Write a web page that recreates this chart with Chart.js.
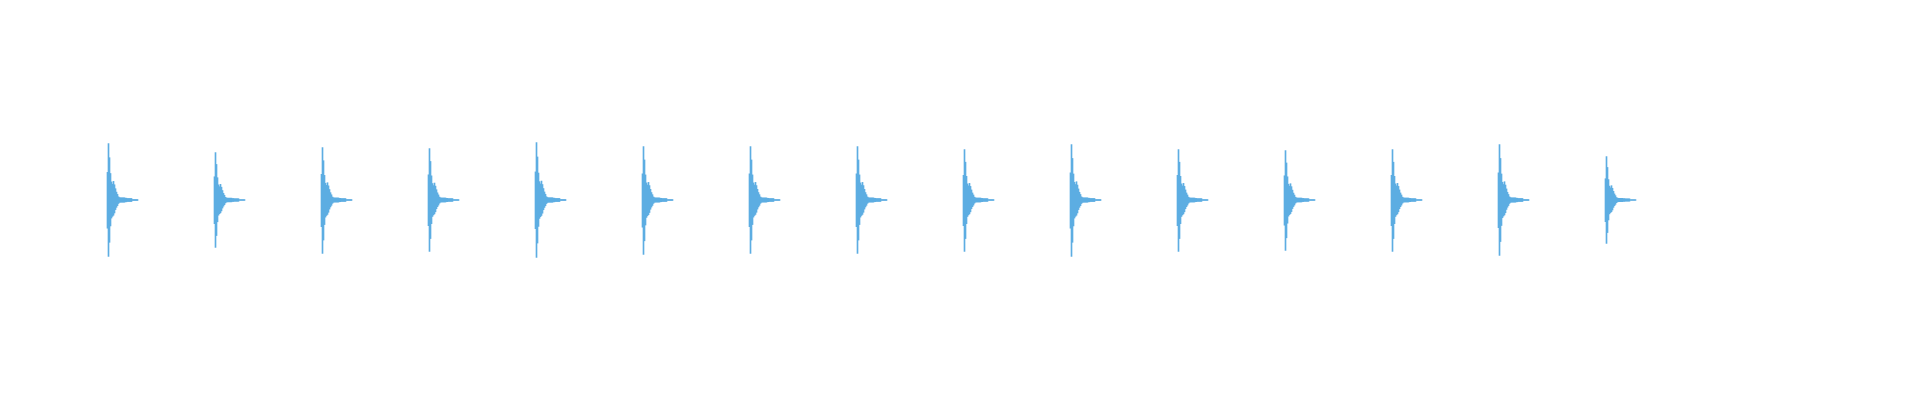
<!DOCTYPE html>
<html>
<head>
<meta charset="utf-8">
<script src="https://cdn.jsdelivr.net/npm/chart.js@4/dist/chart.umd.min.js"></script>
<style>
    html, body { margin: 0; padding: 0; background: #ffffff; }
    #wrap { width: 1920px; height: 400px; }
</style>
</head>
<body>
<div id="wrap"><canvas id="wave" width="1920" height="400"></canvas></div>
<script>
// time bins across the strip (one per column)
const BIN_COUNT = 1920;
const timeBins = Array.from({ length: BIN_COUNT }, (_, i) => i);

// where each hit starts (bin index) — the peak is the bin after
const hitStarts = [107, 214, 321, 428, 535, 642, 749, 856, 963, 1070, 1177, 1284, 1391, 1498, 1605];

// peak amplitude of each hit, above and below zero (full scale = 1)
const peakUp = [0.282, 0.237, 0.262, 0.257, 0.287, 0.267, 0.267, 0.267, 0.252, 0.277, 0.252, 0.247, 0.252, 0.277, 0.217];
const peakDown = [0.282, 0.237, 0.267, 0.257, 0.287, 0.272, 0.267, 0.267, 0.257, 0.282, 0.257, 0.252, 0.257, 0.277, 0.217];

const decayUp = [0.49, 1, 0.75, 0.47, 0.32, 0.28, 0.33, 0.27, 0.2, 0.14, 0.1, 0.057, 0.044, 0.039, 0.039,
    0.039, 0.039, 0.039, 0.032, 0.032, 0.027, 0.027, 0.027, 0.027, 0.027, 0.009, 0.009, 0.009, 0.009, 0.009, 0.009];
const decayDown = [0.5, 1, 0.75, 0.46, 0.32, 0.29, 0.27, 0.23, 0.17, 0.13, 0.1, 0.062, 0.044, 0.039, 0.039,
    0.039, 0.039, 0.039, 0.032, 0.032, 0.027, 0.027, 0.027, 0.027, 0.027, 0.009, 0.009, 0.009, 0.009, 0.009, 0.009];

const WAVE_COLOR = '#5DADE2';

function buildEnvelope() {
    const bins = timeBins.map(() => null);
    hitStarts.forEach((start, h) => {
        decayUp.forEach((share, k) => {
            const idx = start + k;
            if (idx >= BIN_COUNT) return;
            bins[idx] = [-decayDown[k] * peakDown[h], share * peakUp[h]];
        });
    });
    return bins;
}

new Chart(document.getElementById('wave'), {
    type: 'bar',
    data: {
        labels: timeBins,
        datasets: [{
            data: buildEnvelope(),
            backgroundColor: WAVE_COLOR,
            borderWidth: 0,
            barPercentage: 1,
            categoryPercentage: 1,
        }],
    },
    options: {
        responsive: false,
        animation: false,
        layout: { padding: 0 },
        plugins: { legend: { display: false }, tooltip: { enabled: false } },
        scales: {
            x: { display: false },
            y: { display: false, min: -1, max: 1 },
        },
    },
});
</script>
</body>
</html>
